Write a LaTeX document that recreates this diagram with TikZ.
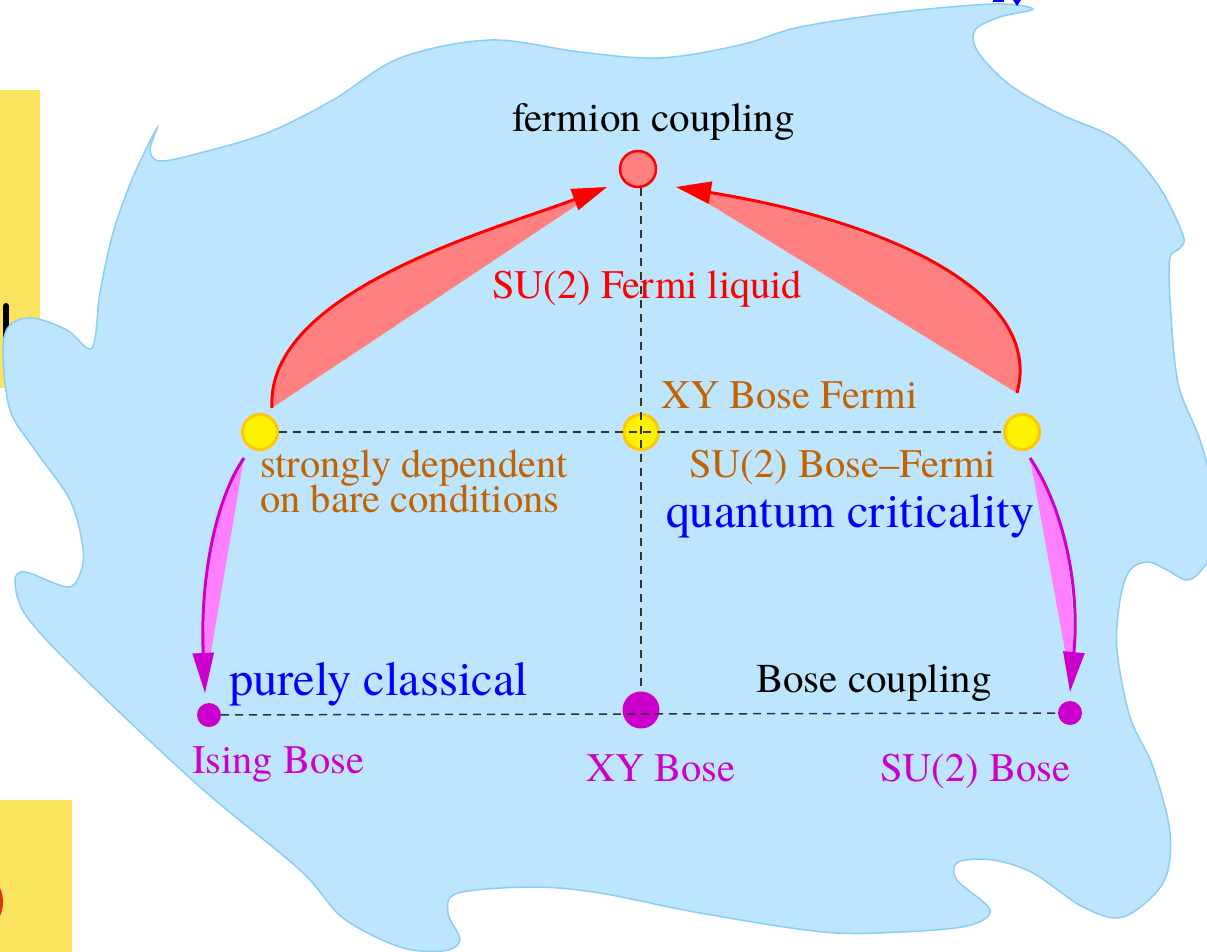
\documentclass[tikz,border=0pt]{standalone}
\usepackage{fontspec}
\setmainfont{texgyretermes}[Extension=.otf, UprightFont=*-regular, Ligatures=TeX]
\usetikzlibrary{arrows.meta,calc}
\definecolor{blobfill}{RGB}{189,229,253}
\definecolor{blobline}{RGB}{140,205,245}
\definecolor{salmon}{RGB}{255,128,128}
\definecolor{pinkf}{RGB}{255,128,255}
\definecolor{magen}{RGB}{204,0,204}
\definecolor{orng}{RGB}{195,98,0}
\definecolor{goldc}{RGB}{255,200,0}
\definecolor{patch}{RGB}{250,228,95}
\definecolor{dashc}{RGB}{50,50,50}
\definecolor{fragred}{RGB}{220,50,20}
\tikzset{
  lbl/.style={inner sep=0pt, outer sep=0pt, anchor=base west},
  txtA/.style={font=\rmfamily\fontsize{40.5}{35}\selectfont},
  txtB/.style={font=\rmfamily\fontsize{41}{45}\selectfont},
  txtC/.style={font=\rmfamily\fontsize{48.5}{52}\selectfont},
  fcirc/.style={circle, inner sep=0pt, minimum size=36pt, fill=salmon, draw=red, line width=2.5pt},
  ycirc/.style={circle, inner sep=0pt, minimum size=35pt, fill=yellow, draw=goldc, line width=3pt},
  mdot/.style={circle, inner sep=0pt, minimum size=24pt, fill=magen},
  bigdot/.style={circle, inner sep=0pt, minimum size=37pt, fill=magen},
  dsh/.style={draw=dashc, line width=1.5pt, dash pattern=on 8pt off 6pt},
  redarrow/.style={draw=red, line width=3pt, -{Triangle[length=35pt,width=22pt]}, color=red},
  magarrow/.style={draw=magen, line width=3pt, -{Triangle[length=40pt,width=21pt]}, color=magen},
  blob/.style={fill=blobfill, draw=blobline, line width=1.5pt}
}
\begin{document}
\begin{tikzpicture}[x=1pt,y=-1pt]
\useasboundingbox (0,0) rectangle (1207,952);
\clip (0,0) rectangle (1207,952);
\fill[white] (0,0) rectangle (1207,952);
% yellow patches at the left edge
\fill[patch] (0,90) rectangle (40,388);
\draw[black, line width=6pt, line cap=round] (6,306) -- (6,350);
\fill[patch] (0,800) rectangle (72,952);
\fill[fragred] (-16,902) ellipse [x radius=19, y radius=26];
% blob
\draw[blob] plot[smooth cycle, tension=0.55] coordinates {
(157,128) (150,150) (160,161) (200,153) (267,133) (333,100) (400,58) (490,40)
(580,52) (660,58) (740,45) (800,27) (900,12) (995,4) (1033,9) (1000,17) (975,30)
(978,52) (1010,85) (1060,114) (1117,140) (1158,185) (1183,235) (1180,248)
(1170,258) (1170,300) (1178,383) (1200,440) (1215,500) (1212,550) (1200,572)
(1186,580) (1167,570) (1148,562) (1130,570) (1120,600) (1117,650) (1130,717)
(1153,767) (1170,833) (1163,883) (1123,917) (1083,907) (1033,873) (993,860)
(958,862) (957,880) (990,910) (967,926) (900,932) (823,932) (700,913) (600,893)
(533,887) (458,893) (448,913) (460,940) (443,951) (400,947) (343,918) (300,870)
(200,787) (83,677) (27,617) (15,582) (25,572) (67,587) (80,574) (83,548)
(70,500) (35,450) (10,410) (3,350) (10,325) (33,318) (67,330) (92,348)
(100,293) (113,233) (133,177)};
% small blue fragment at the top
\fill[blue] (993,0) rectangle (1004,2.5);
\fill[blue] (1013,0) -- (1021,0) -- (1017,6) -- cycle;
% nodes
\node[fcirc] (fc) at (638,169) {};
\node[ycirc] (yl) at (260,432) {};
\node[ycirc] (ym) at (641,432) {};
\node[ycirc] (yr) at (1022,432) {};
\node[mdot] (ml) at (209,715) {};
\node[bigdot] (mm) at (641,710) {};
\node[mdot] (mr) at (1070,713) {};
% dashed lines
\draw[dsh] (yl) -- (yr);
\draw[dsh] (ym |- fc.south) -- (mm);
\draw[dsh] (ml) -- (mr);
% red wedge arrows
\coordinate (rlB) at (272,408);
\coordinate (rlA) at (574,207);
\coordinate (rlT) at (607,187);
\fill[salmon] (rlB) -- (rlA) -- (rlT) .. controls (500,228) and (265,290) .. (rlB) -- cycle;
\draw[redarrow] (rlB) .. controls (265,290) and (500,228) .. (rlT);
\coordinate (rrB) at (1017,393);
\coordinate (rrA) at (714,207);
\coordinate (rrT) at (676,187);
\fill[salmon] (rrB) -- (rrA) -- (rrT) .. controls (880,220) and (1045,290) .. (rrB) -- cycle;
\draw[redarrow] (rrB) .. controls (1045,290) and (880,220) .. (rrT);
% magenta wedge arrows
\coordinate (mlB) at (244,458);
\coordinate (mlA) at (211,652);
\coordinate (mlT) at (205,693);
\fill[pinkf] (mlB) -- (mlA) -- (mlT) .. controls (200,580) and (215,500) .. (mlB) -- cycle;
\draw[magarrow] (mlB) .. controls (215,500) and (200,580) .. (mlT);
\coordinate (mrB) at (1030,458);
\coordinate (mrA) at (1066,656);
\coordinate (mrT) at (1070,692);
\fill[pinkf] (mrB) -- (mrA) -- (mrT) .. controls (1080,590) and (1065,510) .. (mrB) -- cycle;
\draw[magarrow] (mrB) .. controls (1065,510) and (1080,590) .. (mrT);
% texts
\node[lbl,txtB,text=black] (tfc) at (512,132) {fermion coupling};
\node[lbl,txtA,text=red] (tfl) at (492,298) {SU(2) Fermi liquid};
\node[lbl,txtA,text=orng] (txbf) at (661,408) {XY Bose Fermi};
\node[lbl,txtA,text=orng] (tsbf) at (689,477) {SU(2) Bose--Fermi};
\node[lbl,txtC,text=blue] (tqc) at (666,527) {quantum criticality};
\node[txtA,text=orng,inner sep=0pt,align=left,anchor=north west] (tsd) at (260,449.3) {strongly dependent\\[-2.5pt]on bare conditions};
\node[lbl,txtC,text=blue] (tpc) at (229,695) {purely classical};
\node[lbl,txtB,text=black] (tbc) at (756,692) {Bose coupling};
\node[lbl,txtA,text=magen] (tib) at (192,773) {Ising Bose};
\node[lbl,txtA,text=magen] (txb) at (586,781) {XY Bose};
\node[lbl,txtA,text=magen] (tsb) at (880,781) {SU(2) Bose};
\end{tikzpicture}
\end{document}
